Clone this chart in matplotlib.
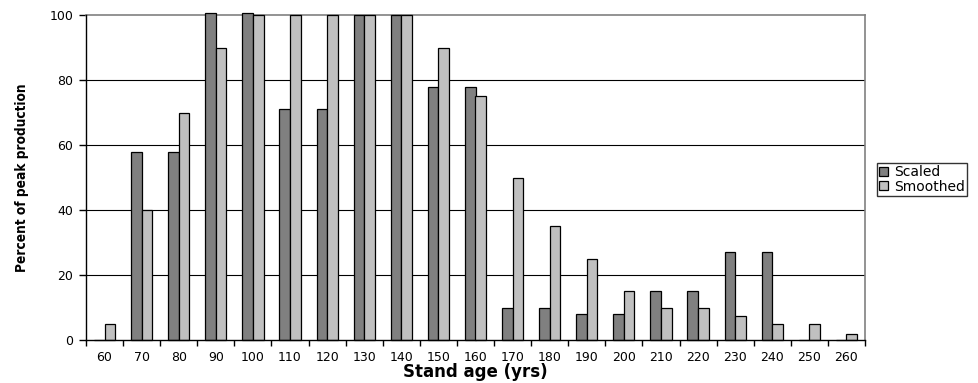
import matplotlib
matplotlib.use("Agg")
import matplotlib.pyplot as plt
import numpy as np
from matplotlib.patches import Patch
from matplotlib import font_manager

# Stand age classes (years)
ages = ["60", "70", "80", "90", "100", "110", "120", "130", "140", "150", "160",
        "170", "180", "190", "200", "210", "220", "230", "240", "250", "260"]

# Percent of peak production
scaled = [0, 58, 58, 100.7, 100.7, 71, 71, 100, 100, 78, 78,
          10, 10, 8, 8, 15, 15, 27, 27, 0, 0]
smoothed = [5, 40, 70, 90, 100, 100, 100, 100, 100, 90, 75,
            50, 35, 25, 15, 10, 10, 7.5, 5, 5, 2]

y_ticks = [0, 20, 40, 60, 80, 100]

dark = "#808080"
light = "#c0c0c0"


def find_condensed_bold():
    """Return the file of an upright, bold, condensed sans face, if any."""
    preferred = ["Liberation Sans Narrow", "Arimo", "Open Sans", "Roboto",
                 "Noto Sans", "Hubot Sans", "DejaVu Sans"]
    cands = []
    for f in font_manager.fontManager.ttflist:
        narrowish = f.stretch in ("condensed", "semi-condensed") or "Narrow" in f.name
        try:
            wt = int(f.weight)
        except (TypeError, ValueError):
            wt = 700 if "bold" in str(f.weight).lower() else 400
        if narrowish and f.style == "normal" and 650 <= wt <= 750:
            cands.append(f)
    for name in preferred:
        for f in cands:
            if f.name == name:
                return f.fname
    return cands[0].fname if cands else None


narrow = find_condensed_bold()
if narrow:
    ylab_font = dict(fontproperties=font_manager.FontProperties(fname=narrow, size=9.8))
else:
    ylab_font = dict(family=["DejaVu Sans"], fontweight="bold", fontsize=8.5)

fig = plt.figure(figsize=(9.79, 3.83), dpi=100)
ax = fig.add_axes([86 / 979, 43 / 383, (865 - 86) / 979, (340 - 15) / 383])

x = np.arange(len(ages))
w = 1 / 3.5
ax.bar(x - w / 2, scaled, width=w, color=dark, edgecolor="black",
       linewidth=0.9, clip_on=False, zorder=3)
ax.bar(x + w / 2, smoothed, width=w, color=light, edgecolor="black",
       linewidth=0.9, clip_on=False, zorder=3)

ax.set_xlim(-0.5, len(ages) - 0.5)
ax.set_ylim(0, 100)

# horizontal gridlines
for v in y_ticks[1:-1]:
    ax.axhline(v, color="black", linewidth=0.8, zorder=1)

for side in ("top", "right"):
    ax.spines[side].set_color("#808080")
    ax.spines[side].set_linewidth(1.2)
for side in ("left", "bottom"):
    ax.spines[side].set_color("black")
    ax.spines[side].set_linewidth(1.0)
    ax.spines[side].set_zorder(4)

tick_font = dict(family=["DejaVu Sans"], size=9)

ax.set_yticks(y_ticks)
ax.set_yticklabels([str(v) for v in y_ticks], **tick_font)
ax.tick_params(axis="y", direction="out", length=5, width=1.0, pad=4)

ax.set_xticks(x)
ax.set_xticklabels(ages, **tick_font)
ax.set_xticks(np.arange(len(ages) + 1) - 0.5, minor=True)
ax.tick_params(axis="x", which="major", length=0, pad=8)
ax.tick_params(axis="x", which="minor", direction="out", length=4, width=1.0)

ax.set_xlabel("Stand age (yrs)", family=["DejaVu Sans"], fontweight="bold",
              fontsize=12, labelpad=-1)
ax.set_ylabel("Percent of peak production", labelpad=15, **ylab_font)

handles = [Patch(facecolor=dark, edgecolor="black", linewidth=0.9, label="Scaled"),
           Patch(facecolor=light, edgecolor="black", linewidth=0.9, label="Smoothed")]
leg = fig.legend(handles=handles, loc="upper left",
                 bbox_to_anchor=(877 / 979, 1 - 163 / 383),
                 prop=dict(family=["DejaVu Sans"], size=10),
                 frameon=True, fancybox=False, borderpad=0.15,
                 handlelength=0.65, handleheight=0.6, handletextpad=0.4,
                 labelspacing=0.05, borderaxespad=0)
leg.get_frame().set_edgecolor("black")
leg.get_frame().set_linewidth(1.0)

fig.savefig("out.png", dpi=100)
